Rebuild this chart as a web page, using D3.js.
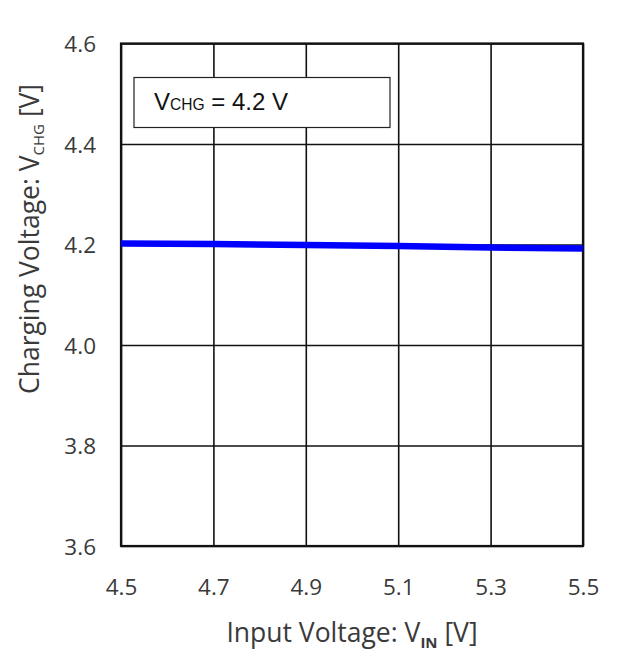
<!DOCTYPE html>
<html>
<head>
<meta charset="utf-8">
<script src="https://cdn.jsdelivr.net/npm/d3@7"></script>
<style>
  body { margin: 0; background: #fff; }
  svg { display: block; }
</style>
</head>
<body>
<div id="chart"></div>
<script>
// values
var vin = [4.5, 4.7, 4.9, 5.1, 5.3, 5.5]
var vchg = [4.202, 4.201, 4.199, 4.197, 4.194, 4.192]
var xTicks = [4.5, 4.7, 4.9, 5.1, 5.3, 5.5]
var yTicks = [3.6, 3.8, 4.0, 4.2, 4.4, 4.6]

var W = 624, H = 672,
    margins = {top: 43.5, right: 41, bottom: 126, left: 121},
    iw = W - margins.left - margins.right,
    ih = H - margins.top - margins.bottom

var axisFont = '"Open Sans", "Noto Sans", sans-serif'

var svg = d3.select('#chart').append('svg')
    .attr('width', W)
    .attr('height', H)

var g = svg.append('g')
    .attr('transform', 'translate(' + margins.left + ',' + margins.top + ')')

var x = d3.scaleLinear().domain([4.5, 5.5]).range([0, iw])
var y = d3.scaleLinear().domain([3.6, 4.6]).range([ih, 0])

// grid + tick labels
var xAxis = g.append('g')
    .attr('transform', 'translate(0,' + ih + ')')
    .call(d3.axisBottom(x).tickValues(xTicks).tickSize(-ih).tickFormat(d3.format('.1f')))
xAxis.select('.domain').remove()
xAxis.selectAll('line').attr('stroke', '#111').attr('stroke-width', 1.6)
xAxis.selectAll('text')
    .attr('y', 49)
    .attr('dy', 0)
    .attr('fill', '#3a3a3a')
    .style('font-family', axisFont)
    .style('font-size', '22.5px')

var yAxis = g.append('g')
    .call(d3.axisLeft(y).tickValues(yTicks).tickSize(-iw).tickFormat(d3.format('.1f')))
yAxis.select('.domain').remove()
yAxis.selectAll('line').attr('stroke', '#111').attr('stroke-width', 1.6)
yAxis.selectAll('text')
    .attr('x', -25)
    .attr('dy', '0.36em')
    .attr('fill', '#3a3a3a')
    .style('font-family', axisFont)
    .style('font-size', '22.5px')

// plot frame
g.append('rect')
    .attr('width', iw)
    .attr('height', ih)
    .attr('fill', 'none')
    .attr('stroke', '#111')
    .attr('stroke-width', 2.2)

// legend box
var legend = g.append('g')
    .attr('transform', 'translate(' + (134 - margins.left) + ',' + (77.5 - margins.top) + ')')
legend.append('rect')
    .attr('width', 256)
    .attr('height', 50)
    .attr('fill', '#fff')
    .attr('stroke', '#222')
    .attr('stroke-width', 1.2)
var lt = legend.append('text')
    .attr('x', 20)
    .attr('y', 32.5)
    .attr('fill', '#111')
    .style('font-family', '"Liberation Sans", Arial, sans-serif')
    .style('font-size', '24px')
lt.append('tspan').text('V')
lt.append('tspan').style('font-size', '15.6px').text('CHG')
lt.append('tspan').text(' = 4.2 V')

// data line
var line = d3.line()
    .x(function(d, i) { return x(vin[i]) })
    .y(function(d) { return y(d) })

g.append('path')
    .datum(vchg)
    .attr('d', line)
    .attr('fill', 'none')
    .attr('stroke', '#0000ff')
    .attr('stroke-width', 6.5)

// axis titles
var xt = svg.append('text')
    .attr('x', 352)
    .attr('y', 642)
    .attr('text-anchor', 'middle')
    .attr('fill', '#3a3a3a')
    .style('font-family', axisFont)
    .style('font-size', '26.5px')
xt.append('tspan').text('Input Voltage: V')
xt.append('tspan').attr('dy', 6).style('font-size', '15px').style('font-weight', 'bold').text('IN')
xt.append('tspan').attr('dy', -6).text(' [V]')

var yt = svg.append('text')
    .attr('transform', 'translate(39,239) rotate(-90)')
    .attr('text-anchor', 'middle')
    .attr('fill', '#3a3a3a')
    .style('font-family', axisFont)
    .style('font-size', '26.5px')
yt.append('tspan').text('Charging Voltage: V')
yt.append('tspan').attr('dy', 5).style('font-size', '15px').text('CHG')
yt.append('tspan').attr('dy', -5).text(' [V]')
</script>
</body>
</html>
